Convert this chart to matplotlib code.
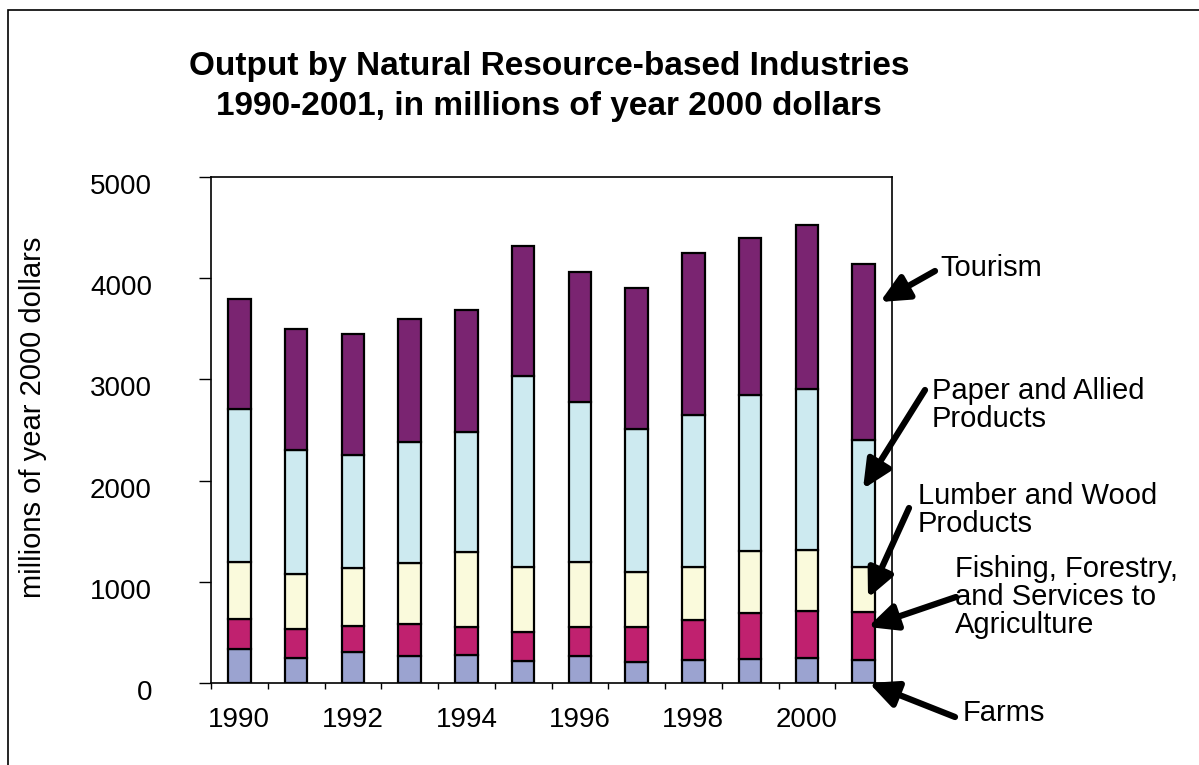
import matplotlib.pyplot as plt
import matplotlib.transforms as mtransforms
import numpy as np
from matplotlib.patches import Rectangle

plt.rcParams['font.family'] = ['Liberation Sans', 'DejaVu Sans']

# dati (milioni di dollari del 2000)
anni = [1990, 1991, 1992, 1993, 1994, 1995, 1996, 1997, 1998, 1999, 2000, 2001]
farms = [334, 245, 310, 264, 277, 218, 264, 211, 228, 238, 248, 228]
fishing = [303, 293, 254, 323, 280, 290, 290, 346, 393, 458, 465, 478]
lumber = [561, 538, 572, 598, 733, 634, 637, 542, 525, 604, 604, 436]
paper = [1512, 1228, 1118, 1201, 1195, 1891, 1584, 1406, 1507, 1542, 1584, 1264]
tourism = [1089, 1198, 1198, 1208, 1205, 1284, 1284, 1396, 1598, 1554, 1624, 1739]

serie = [farms, fishing, lumber, paper, tourism]
colori = ['#9BA3D0', '#C0216F', '#FAFADC', '#CDEAF0', '#7A2471']

W, H = 1199, 765
fig = plt.figure(figsize=(W / 100, H / 100), dpi=100)
ax = fig.add_axes([211 / W, (H - 683) / H, (892 - 211) / W, (683 - 177) / H])

x = np.arange(len(anni))
base = np.zeros(len(anni))
for valori, col in zip(serie, colori):
    ax.bar(x, valori, width=0.4, bottom=base, color=col, edgecolor='black', linewidth=1.6)
    base = base + np.array(valori)

ax.set_xlim(-0.5, len(anni) - 0.5)
ax.set_ylim(0, 5000)
ax.set_yticks(range(0, 5001, 1000))
ax.tick_params(axis='y', direction='out', length=8.5, width=1, pad=34, labelsize=20)
# etichette y un po' sotto il tick, come nell'originale
spost = mtransforms.ScaledTranslation(0, -7 / 100, fig.dpi_scale_trans)
for lab in ax.get_yticklabels():
    lab.set_transform(lab.get_transform() + spost)

# tick principali sui bordi delle categorie, etichette ogni due anni
ax.set_xticks(np.arange(-0.5, len(anni), 1))
ax.set_xticklabels([])
ax.set_xticks(x[::2], minor=True)
ax.set_xticklabels([str(a) for a in anni[::2]], minor=True)
ax.tick_params(axis='x', which='major', direction='out', length=4.5, width=1)
ax.tick_params(axis='x', which='minor', length=0, pad=17, labelsize=20)

for s in ax.spines.values():
    s.set_linewidth(1.2)

ax.set_ylabel('millions of year 2000 dollars', fontsize=21)
ax.yaxis.set_label_coords(47 / W, 1 - 417 / H, transform=fig.transFigure)

fig.text(549 / W, 1 - 67 / H, 'Output by Natural Resource-based Industries',
         ha='center', va='center', fontsize=24, fontweight='bold')
fig.text(549 / W, 1 - 107 / H, '1990-2001, in millions of year 2000 dollars',
         ha='center', va='center', fontsize=24, fontweight='bold')

# bordo del grafico
fig.add_artist(Rectangle((8 / W, -0.1), 1.2, 1 - 10 / H + 0.1, transform=fig.transFigure,
                         fill=False, edgecolor='black', linewidth=1.2))

# etichette con frecce
etichette = [
    ('Tourism', (940, 268), (935, 271), (880, 302)),
    ('Paper and Allied\nProducts', (932, 405), (925, 390), (863, 489)),
    ('Lumber and Wood\nProducts', (918, 510), (909, 508), (868, 598)),
    ('Fishing, Forestry,\nand Services to\nAgriculture', (955, 597), (956, 597), (868, 627)),
    ('Farms', (963, 713), (955, 717), (869, 683)),
]
for testo, pos, coda, punta in etichette:
    fig.text(pos[0] / W, 1 - pos[1] / H, testo, ha='left', va='center',
             fontsize=21, linespacing=1.0)
    ax.annotate('', xy=(punta[0], H - punta[1]), xycoords='figure pixels',
                xytext=(coda[0], H - coda[1]), textcoords='figure pixels',
                arrowprops=dict(arrowstyle='-|>,head_length=1.7,head_width=0.8',
                                color='black', lw=4.5, shrinkA=0, shrinkB=0),
                annotation_clip=False)

plt.savefig('out.png', dpi=100)
